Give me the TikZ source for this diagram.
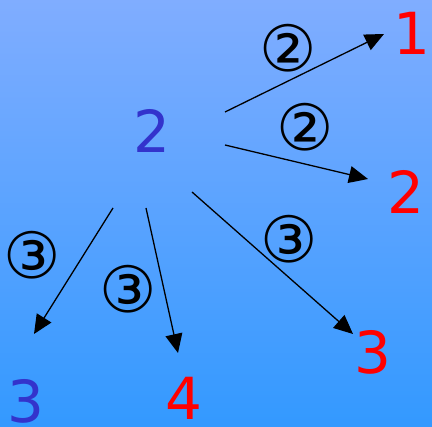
\documentclass[tikz,border=0pt]{standalone}
\usepackage{fontspec}
\setmainfont{DejaVu Sans}
\usetikzlibrary{arrows.meta}
\definecolor{skytop}{HTML}{80ADFF}
\definecolor{skybot}{HTML}{3399FF}
\definecolor{numblue}{HTML}{3333CC}
\definecolor{numred}{HTML}{FF0000}
\tikzset{
  num/.style={inner sep=0pt, font=\fontsize{58}{60}\selectfont},
  src/.style={num, text=numblue},
  dst/.style={num, text=numred},
  weight/.style={inner sep=0pt, font=\fontsize{64}{66}\selectfont, text=black},
  link/.style={-{Triangle[length=19pt,width=17pt]}, draw=black, line width=1.3pt}
}

\begin{document}
\begin{tikzpicture}[x=1pt,y=-1pt]

% background: vertical blue gradient
\shade[top color=skytop, bottom color=skybot] (0,0) rectangle (432,427);
\useasboundingbox (0,0) rectangle (432,427);

% numbers
\node[src] (root) at (152,131) {2};
\node[dst] (one) at (412,33) {1};
\node[dst] (two) at (406,192) {2};
\node[dst] (three) at (373,352) {3};
\node[src] (left) at (26,401) {3};
\node[dst] (four) at (184,398) {4};

% arrow ends
\coordinate (s1) at (225,112);
\coordinate (e1) at (384,34);
\coordinate (s2) at (225,145);
\coordinate (e2) at (368,179);
\coordinate (s3) at (192,192);
\coordinate (e3) at (353,334);
\coordinate (s4) at (113,208);
\coordinate (e4) at (34,334);
\coordinate (s5) at (146,208);
\coordinate (e5) at (178,353);

\draw[link] (s1) -- (e1);
\draw[link] (s2) -- (e2);
\draw[link] (s3) -- (e3);
\draw[link] (s4) -- (e4);
\draw[link] (s5) -- (e5);

% weights
\node[weight] (w1) at (288,48) {②};
\node[weight] (w2) at (305,127) {②};
\node[weight] (w3) at (289,239) {③};
\node[weight] (w4) at (32,255) {③};
\node[weight] (w5) at (128,289) {③};

\end{tikzpicture}
\end{document}
